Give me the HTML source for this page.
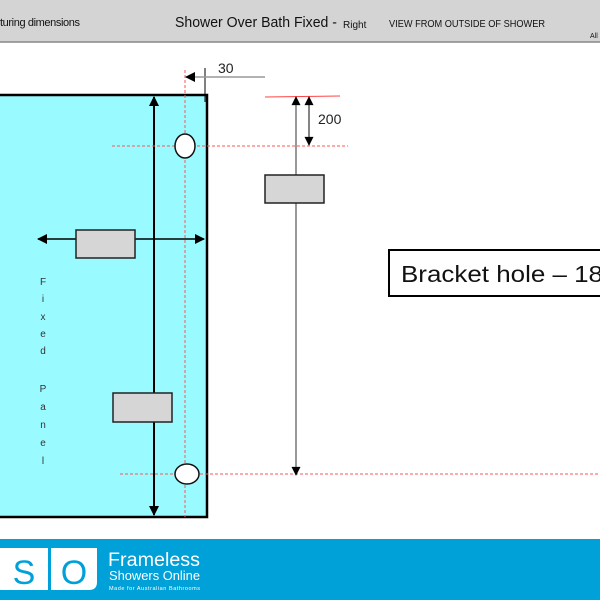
<!DOCTYPE html>
<html><head><style>
body{margin:0;width:600px;height:600px;overflow:hidden;background:#fff;font-family:"Liberation Sans",sans-serif;}
</style></head><body>
<svg width="600" height="600" viewBox="0 0 600 600" xmlns="http://www.w3.org/2000/svg" style="position:absolute;left:0;top:0">
<defs>
<marker id="ah" viewBox="0 0 10 10" refX="9" refY="5" markerWidth="11" markerHeight="10" markerUnits="userSpaceOnUse" orient="auto-start-reverse"><path d="M0,0L10,5L0,10z" fill="#000"/></marker>
<marker id="ahs" viewBox="0 0 10 10" refX="9" refY="5" markerWidth="10" markerHeight="9" markerUnits="userSpaceOnUse" orient="auto-start-reverse"><path d="M0,0L10,5L0,10z" fill="#000"/></marker>
</defs>
<rect x="0" y="0" width="600" height="42" fill="#d4d4d4"/>
<line x1="0" y1="42" x2="600" y2="42" stroke="#888" stroke-width="1.5"/>
<text x="0" y="26" font-size="11" fill="#111" textLength="80">turing dimensions</text>
<text x="175" y="27" font-size="15" fill="#111" textLength="162" lengthAdjust="spacingAndGlyphs">Shower Over Bath Fixed -</text>
<text x="343" y="28" font-size="10" fill="#111">Right</text>
<text x="389" y="27" font-size="10.5" fill="#111" textLength="156" lengthAdjust="spacingAndGlyphs">VIEW FROM OUTSIDE OF SHOWER</text>
<text x="590" y="38" font-size="7" fill="#111">All</text>

<rect x="-5" y="95" width="212" height="422" fill="#99fbff" stroke="#000" stroke-width="2.5"/>
<line x1="154" y1="515" x2="154" y2="97" stroke="#000" stroke-width="2" marker-end="url(#ah)" marker-start="url(#ah)"/>
<line x1="185" y1="70" x2="185" y2="517" stroke="#f55" stroke-width="1" stroke-dasharray="3,2"/>
<line x1="112" y1="146" x2="348" y2="146" stroke="#f55" stroke-width="1" stroke-dasharray="3,2"/>
<line x1="120" y1="474" x2="600" y2="474" stroke="#f55" stroke-width="1" stroke-dasharray="3,2"/>
<ellipse cx="185" cy="146" rx="10" ry="12" fill="#fff" stroke="#111" stroke-width="1.5"/>
<ellipse cx="187" cy="474" rx="12" ry="10" fill="#fff" stroke="#111" stroke-width="1.5"/>
<line x1="38" y1="239" x2="204" y2="239" stroke="#000" stroke-width="1.5" marker-end="url(#ah)" marker-start="url(#ah)"/>
<rect x="76" y="230" width="59" height="28" fill="#d6d6d6" stroke="#222" stroke-width="1.5"/>
<rect x="113" y="393" width="59" height="29" fill="#d6d6d6" stroke="#222" stroke-width="1.5"/>
<g font-size="10" fill="#333" text-anchor="middle">
<text x="43" y="285">F</text><text x="43" y="302">i</text><text x="43" y="320">x</text><text x="43" y="337">e</text><text x="43" y="354">d</text>
<text x="43" y="392">P</text><text x="43" y="410">a</text><text x="43" y="428">n</text><text x="43" y="446">e</text><text x="43" y="464">l</text>
</g>

<line x1="205" y1="68" x2="205" y2="102" stroke="#000" stroke-width="1"/>
<line x1="265" y1="77" x2="186" y2="77" stroke="#999" stroke-width="1.5" marker-end="url(#ah)"/>
<text x="218" y="73" font-size="14" fill="#222">30</text>

<line x1="265" y1="97" x2="340" y2="96" stroke="#f44" stroke-width="1"/>
<line x1="296" y1="475" x2="296" y2="97" stroke="#555" stroke-width="1.2" marker-end="url(#ahs)" marker-start="url(#ahs)"/>
<line x1="309" y1="97" x2="309" y2="145" stroke="#333" stroke-width="1.2" marker-end="url(#ahs)" marker-start="url(#ahs)"/>
<text x="318" y="124" font-size="14" fill="#222">200</text>
<rect x="265" y="175" width="59" height="28" fill="#d6d6d6" stroke="#222" stroke-width="1.5"/>

<rect x="389" y="250" width="220" height="46" fill="#fff" stroke="#000" stroke-width="2"/>
<text x="401" y="282" font-size="23" fill="#111" textLength="202" lengthAdjust="spacingAndGlyphs">Bracket hole – 18</text>

<rect x="0" y="539" width="600" height="61" fill="#00a0d8"/>
<path d="M0,548H97V582Q97,590 89,590H0Z" fill="#fff"/>
<rect x="48" y="548" width="3" height="42" fill="#00a0d8"/>
<text x="24" y="584" font-size="34" fill="#00a0d8" text-anchor="middle">S</text>
<text x="74" y="584" font-size="34" fill="#00a0d8" text-anchor="middle">O</text>
<text x="108" y="566" font-size="19" fill="#fff" textLength="92" lengthAdjust="spacingAndGlyphs">Frameless</text>
<text x="109" y="580" font-size="12.5" fill="#fff" textLength="91" lengthAdjust="spacingAndGlyphs">Showers Online</text>
<text x="109" y="590" font-size="5.5" fill="#fff" textLength="91">Made for Australian Bathrooms</text>
</svg>
</body></html>
